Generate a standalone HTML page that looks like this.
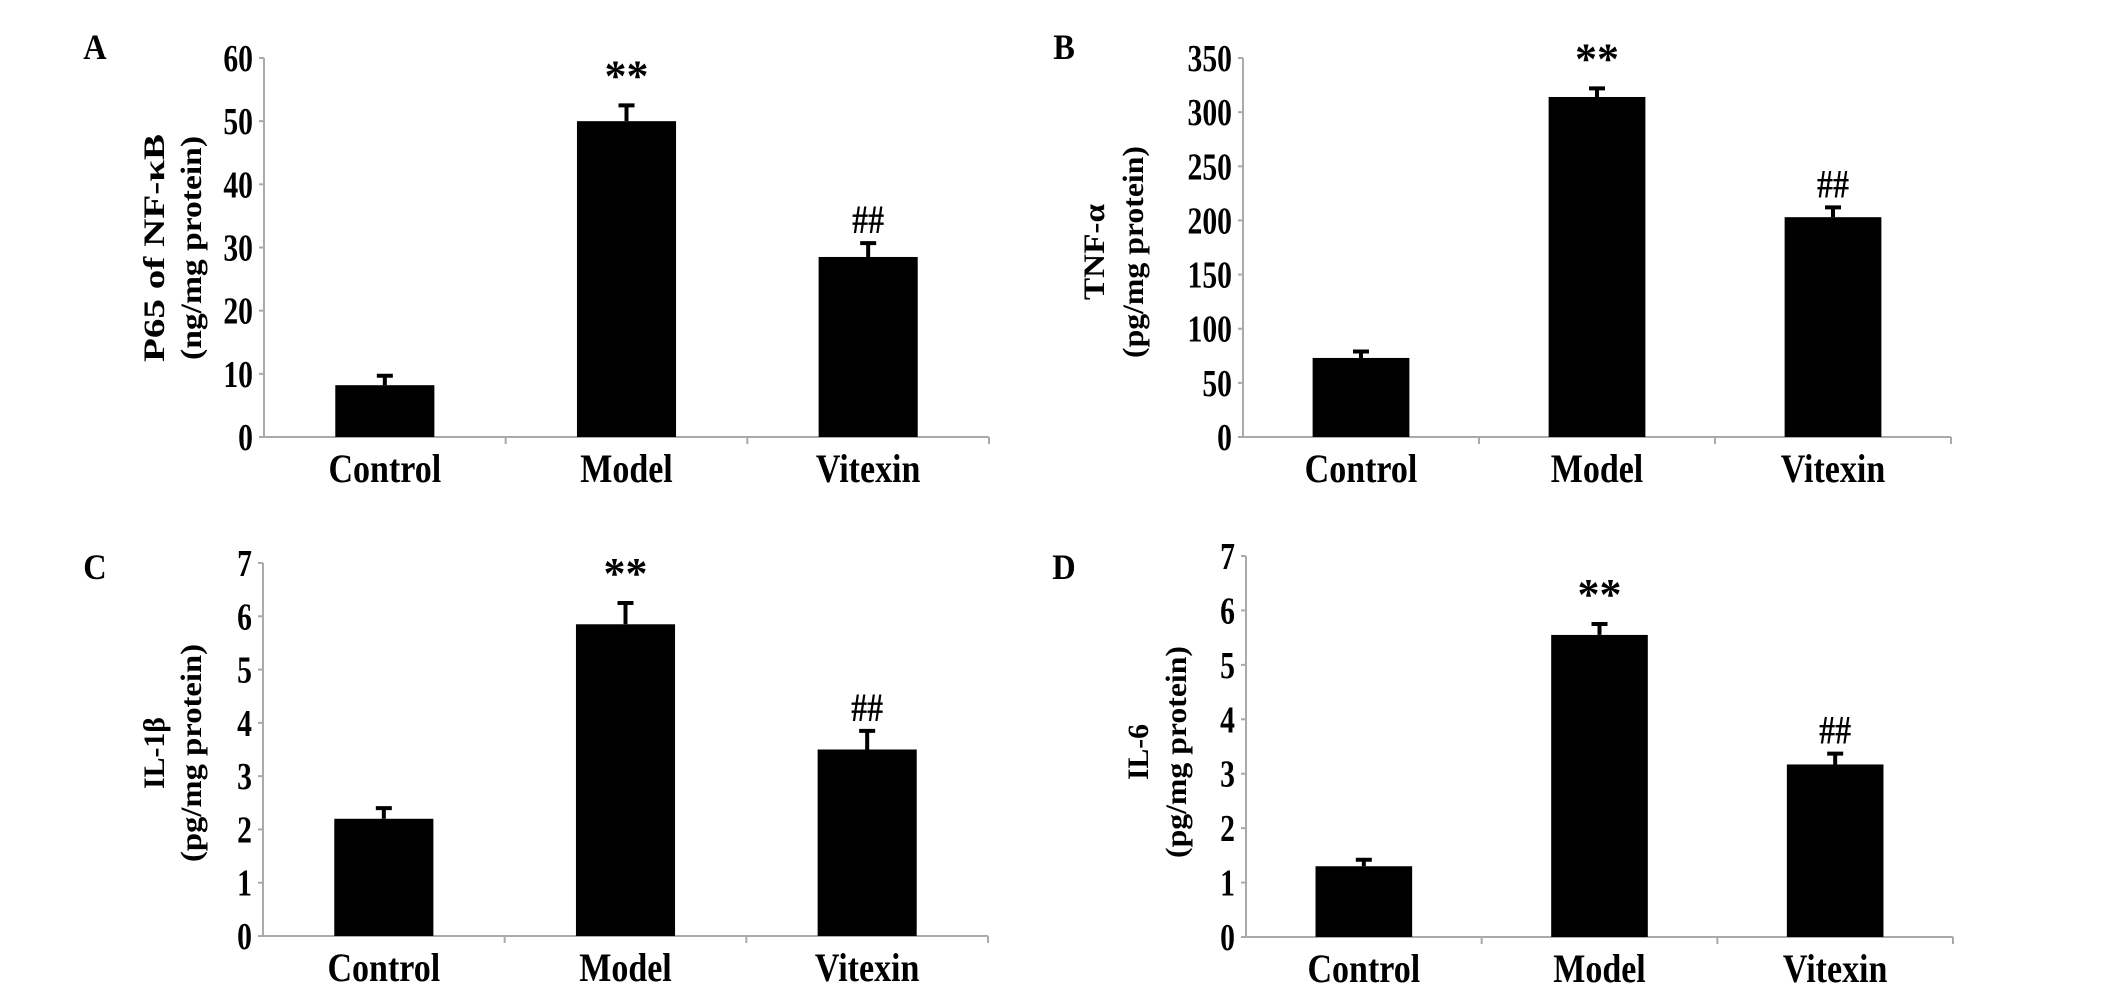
<!DOCTYPE html>
<html><head><meta charset="utf-8"><style>
html,body{margin:0;padding:0;background:#fff}
svg{display:block}
text{font-family:"Liberation Serif",serif;font-weight:bold;fill:#000}
</style></head><body>
<svg id="fig" width="2126" height="996" viewBox="0 0 2126 996" xmlns="http://www.w3.org/2000/svg"></svg>
<script>
const categories = ["Control","Model","Vitexin"];
const valuesA = [8.2, 50.0, 28.5];
const errorsA = [1.5, 2.5, 2.2];
const ticksA = [0,10,20,30,40,50,60];
const valuesB = [73, 314, 203];
const errorsB = [6, 8, 9];
const ticksB = [0,50,100,150,200,250,300,350];
const valuesC = [2.2, 5.85, 3.5];
const errorsC = [0.2, 0.4, 0.35];
const ticksC = [0,1,2,3,4,5,6,7];
const valuesD = [1.3, 5.55, 3.17];
const errorsD = [0.12, 0.2, 0.2];
const ticksD = [0,1,2,3,4,5,6,7];
const marksA = ["", "**", "##"];

const NS = "http://www.w3.org/2000/svg";
const svg = document.getElementById("fig");
function mk(tag, attrs, parent, txt){
  const e = document.createElementNS(NS, tag);
  for (const k in attrs) e.setAttribute(k, attrs[k]);
  if (txt !== undefined) e.textContent = txt;
  (parent||svg).appendChild(e);
  return e;
}

const panels = [
  {id:"a", letter:"A", lx:95, ly:57, x0:264, x1:989, top:58, zero:437, vals:valuesA, errs:errorsA, ticks:ticksA,
   l1:"P65 of NF-κB", l1x:164, l1len:228, l2x:201, l2len:224, cy:248},
  {id:"b", letter:"B", lx:1064, ly:57, x0:1243, x1:1951, top:58, zero:437, vals:valuesB, errs:errorsB, ticks:ticksB,
   l1:"TNF-α", l1x:1104, l1len:96, l2x:1143, l2len:212, cy:252},
  {id:"c", letter:"C", lx:95, ly:577, x0:263, x1:988, top:563, zero:936, vals:valuesC, errs:errorsC, ticks:ticksC,
   l1:"IL-1β", l1x:164, l1len:72, l2x:201, l2len:218, cy:753},
  {id:"d", letter:"D", lx:1064, ly:577, x0:1246, x1:1953, top:556, zero:937, vals:valuesD, errs:errorsD, ticks:ticksD,
   l1:"IL-6", l1x:1148, l1len:56, l2x:1186, l2len:212, cy:752}
];

panels.forEach(p => {
  const g = mk("g", {});
  
  
  const tmax = p.ticks[p.ticks.length-1];
  const y = v => p.zero - (v / tmax) * (p.zero - p.top);
  const band = (p.x1 - p.x0) / categories.length;
  const bw = band * 0.41;
  const xc = i => p.x0 + band * (i + 0.5);

  const L = mk("text", {x:0, y:0, "font-size":36, "text-anchor":"middle", transform:`translate(${p.lx},${p.ly+2}) scale(0.9,1)`}, g, p.letter);
  
  

  const ya = mk("line", {x1:p.x0, y1:p.top, x2:p.x0, y2:p.zero, stroke:"#aaa", "stroke-width":2}, g);
  
  
  const xa = mk("line", {x1:p.x0, y1:p.zero, x2:p.x1, y2:p.zero, stroke:"#aaa", "stroke-width":2}, g);
  
  

  p.ticks.forEach(t => {
    const ty = y(t);
    mk("line", {x1:p.x0-5, y1:ty, x2:p.x0, y2:ty, stroke:"#aaa", "stroke-width":2}, g);
    const tl = mk("text", {x:0, y:0, "font-size":38, "text-anchor":"end", transform:`translate(${p.x0-11},${ty+13}) scale(0.78,1)`}, g, String(t));
    
    
  });
  for (let i = 1; i <= categories.length; i++) {
    const bx = p.x0 + band * i;
    mk("line", {x1:bx, y1:p.zero, x2:bx, y2:p.zero+7, stroke:"#aaa", "stroke-width":2}, g);
  }

  categories.forEach((c, i) => {
    const cl = mk("text", {x:0, y:0, "font-size":40, "text-anchor":"middle", transform:`translate(${xc(i)},${p.zero+45}) scale(0.85,1)`}, g, c);
    
    
    const v = p.vals[i], e = p.errs[i];
    const bar = mk("rect", {x:xc(i)-bw/2, y:y(v), width:bw, height:p.zero - y(v), fill:"#000"}, g);
    
    
    const eb = mk("path", {d:`M${xc(i)} ${y(v)} V${y(v+e)} M${xc(i)-8} ${y(v+e)} H${xc(i)+8}`, stroke:"#000", "stroke-width":4, fill:"none"}, g);
    
    
    if (marksA[i]) {
      const star = marksA[i]==="**";
      const m = mk("text", {x:0, y:0, "font-size":star ? 44 : 40, "text-anchor":"middle", transform:`translate(${xc(i)},${y(v+e) + (star ? -15 : -10)}) scale(${star?1:0.8},1)`}, g, marksA[i]);
      
      
    }
  });

  const t1 = mk("text", {x:0, y:0, "font-size":30, "text-anchor":"middle", transform:`translate(${p.l1x},${p.cy}) rotate(-90)`, textLength:p.l1len, lengthAdjust:"spacingAndGlyphs"}, g, p.l1);
  
  
  const t2 = mk("text", {x:0, y:0, "font-size":30, "text-anchor":"middle", transform:`translate(${p.l2x},${p.cy}) rotate(-90)`, textLength:p.l2len, lengthAdjust:"spacingAndGlyphs"}, g, p.id==="a" ? "(ng/mg protein)" : "(pg/mg protein)");
  
  
});
</script>
</body></html>
